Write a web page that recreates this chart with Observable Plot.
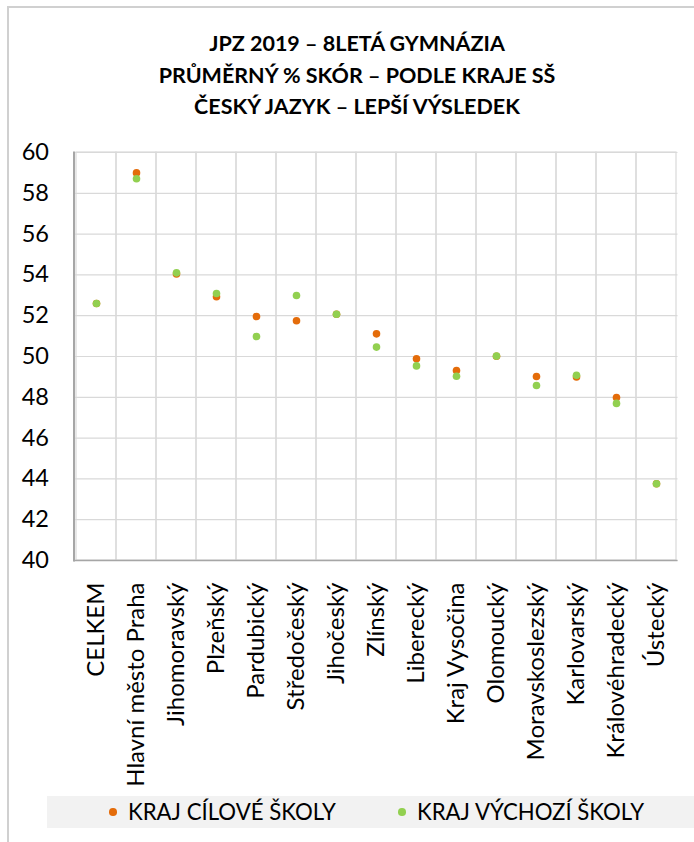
<!DOCTYPE html>
<html><head><meta charset="utf-8">
<script src="https://cdn.jsdelivr.net/npm/d3@7"></script>
<script src="https://cdn.jsdelivr.net/npm/@observablehq/plot@0.6"></script>
<style>
body{margin:0;background:#fff;font-family:Lato,sans-serif;color:#000;}
#chart{position:relative;width:694px;height:842px;overflow:hidden;background:#fff;}
#frame{position:absolute;left:7px;top:6px;width:800px;height:900px;border-left:2px solid #d0d0d0;border-top:2px solid #d0d0d0;}
#title{position:absolute;left:8px;width:698px;top:28px;text-align:center;font-weight:bold;font-size:21.5px;line-height:31.5px;}
#plot{position:absolute;left:0;top:140px;}
#legend{position:absolute;left:47px;top:796px;width:660px;height:32px;background:#f2f2f2;}
.item{position:absolute;top:0;font-size:22.2px;line-height:32px;white-space:nowrap;}
.dot{position:absolute;width:7.6px;height:7.6px;border-radius:50%;top:12.2px;}
</style></head>
<body>
<div id="chart">
  <div id="frame"></div>
  <div id="title"></div>
  <div id="plot"></div>
  <div id="legend"></div>
</div>
<script>
const titleLines = ["JPZ 2019 – 8LETÁ GYMNÁZIA", "PRŮMĚRNÝ % SKÓR – PODLE KRAJE SŠ", "ČESKÝ JAZYK – LEPŠÍ VÝSLEDEK"];
const categories = ["CELKEM","Hlavní město Praha","Jihomoravský","Plzeňský","Pardubický","Středočeský","Jihočeský","Zlínský","Liberecký","Kraj Vysočina","Olomoucký","Moravskoslezský","Karlovarský","Královéhradecký","Ústecký"];
const krajCilove = [52.6, 59.0, 54.05, 52.93, 51.96, 51.75, 52.07, 51.11, 49.89, 49.31, 50.01, 49.02, 49.0, 47.99, 43.76];
const krajVychozi = [52.6, 58.71, 54.1, 53.09, 50.98, 52.99, 52.07, 50.46, 49.54, 49.03, 50.02, 48.58, 49.08, 47.70, 43.76];
const seriesNames = ["KRAJ CÍLOVÉ ŠKOLY", "KRAJ VÝCHOZÍ ŠKOLY"];
const seriesColors = ["#E46C0A", "#92D050"];
const yTicks = [40, 42, 44, 46, 48, 50, 52, 54, 56, 58, 60];

// layout (not data)
const legendDotLeft = [62, 351];
const legendTextLeft = [81, 370];

document.getElementById("title").innerHTML = titleLines.map(t => `<div>${t}</div>`).join("");

const rows = categories.flatMap((c, i) => [
  {cat: c, series: seriesNames[0], v: krajCilove[i]},
  {cat: c, series: seriesNames[1], v: krajVychozi[i]}
]);

const chart = Plot.plot({
  width: 694, height: 655,
  marginTop: 12, marginBottom: 235, marginLeft: 73.5, marginRight: 16.5,
  x: {type: "band", domain: categories, padding: 0, label: null},
  y: {domain: [40, 60], label: null},
  color: {domain: seriesNames, range: seriesColors},
  style: {fontFamily: "Lato", fontSize: "24px", color: "#000", overflow: "visible", background: "transparent"},
  marks: [
    Plot.barY(categories, {x: d => d, y1: 40, y2: 60, fill: "none", stroke: "#d9d9d9", strokeWidth: 1.2}),
    Plot.ruleY(yTicks, {stroke: "#d9d9d9", strokeWidth: 1.2}),
    Plot.ruleY([40], {stroke: "#a6a6a6", strokeWidth: 1.5}),
    Plot.frame({anchor: "left", stroke: "#a6a6a6", strokeWidth: 2}),
    Plot.axisY({ticks: yTicks, tickSize: 0, tickPadding: 25, tickFormat: d => String(d), fill: "#000", fontSize: 23.5}),
    Plot.axisX({tickRotate: -90, tickSize: 0, tickPadding: 22, fill: "#000", fontSize: 24}),
    Plot.dot(rows, {x: "cat", y: "v", fill: "series", r: 3.8})
  ]
});
document.getElementById("plot").appendChild(chart);

const legend = document.getElementById("legend");
seriesNames.forEach((name, i) => {
  const dot = document.createElement("span");
  dot.className = "dot";
  dot.style.left = legendDotLeft[i] + "px";
  dot.style.background = seriesColors[i];
  legend.appendChild(dot);
  const t = document.createElement("span");
  t.className = "item";
  t.style.left = legendTextLeft[i] + "px";
  t.textContent = name;
  legend.appendChild(t);
});
</script>
</body></html>
